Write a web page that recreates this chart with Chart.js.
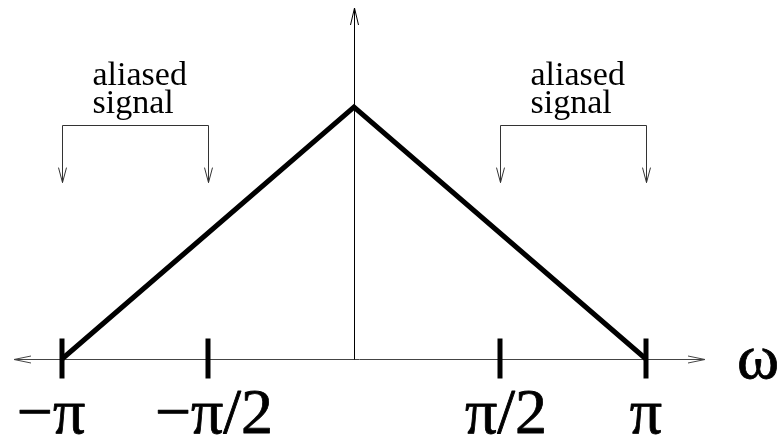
<!DOCTYPE html>
<html>
<head>
<meta charset="utf-8">
<style>
  html, body { margin: 0; padding: 0; background: #fff; }
  #wrap { width: 784px; height: 440px; }
</style>
<script src="https://cdn.jsdelivr.net/npm/chart.js@4/dist/chart.umd.min.js"></script>
</head>
<body>
<div id="wrap"><canvas id="spectrum" width="784" height="440"></canvas></div>
<script>
// frequency axis is in units of pi
const freqs = [-1, 0, 1];
const magnitude = [0, 1, 0];
const tickValues = [-1, -0.5, 0.5, 1];
const tickLabels = ['\u2212\u03c0', '\u2212\u03c0/2', '\u03c0/2', '\u03c0'];
const aliasBands = [[-1, -0.5], [0.5, 1]];
const aliasText = ['aliased', 'signal'];
const axisName = '\u03c9';

const SERIF = '"Liberation Serif", "Times New Roman", serif';

function arrowHead(ctx, tipX, tipY, dx, dy, len, half){
  // open V arrow pointing along (dx, dy)
  const bx = tipX - dx * len, by = tipY - dy * len;
  ctx.beginPath();
  ctx.moveTo(bx - dy * half, by + dx * half);
  ctx.lineTo(tipX, tipY);
  ctx.lineTo(bx + dy * half, by - dx * half);
  ctx.stroke();
}

const axesPlugin = {
  id: 'axes',
  beforeDatasetsDraw(chart){
    const {ctx, scales: {x, y}} = chart;
    const y0 = Math.round(y.getPixelForValue(0)) + 0.5;
    const x0 = Math.round(x.getPixelForValue(0)) + 0.5;
    ctx.save();
    ctx.lineWidth = 1;

    // horizontal axis, arrows both ends
    ctx.strokeStyle = '#444';
    ctx.beginPath();
    ctx.moveTo(14, y0);
    ctx.lineTo(705, y0);
    ctx.stroke();
    arrowHead(ctx, 14, y0, -1, 0, 17, 3.5);
    arrowHead(ctx, 705, y0, 1, 0, 17, 3.5);

    // vertical axis
    ctx.strokeStyle = '#000';
    ctx.beginPath();
    ctx.moveTo(x0, y0);
    ctx.lineTo(x0, 8);
    ctx.stroke();
    arrowHead(ctx, x0, 8, 0, -1, 17, 4);

    // thick tick marks crossing the axis
    ctx.lineWidth = 5;
    ctx.lineCap = 'butt';
    tickValues.forEach(v => {
      const px = x.getPixelForValue(v);
      ctx.beginPath();
      ctx.moveTo(px, y0 - 21);
      ctx.lineTo(px, y0 + 19);
      ctx.stroke();
    });

    // tick labels (hand placed, slightly off-centre)
    const nudge = [-11, 6, 6, 0];
    ctx.fillStyle = '#000';
    ctx.strokeStyle = '#000';
    ctx.lineWidth = 0.8;
    ctx.lineJoin = 'round';
    ctx.font = '64px ' + SERIF;
    ctx.textAlign = 'center';
    ctx.textBaseline = 'alphabetic';
    tickValues.forEach((v, i) => {
      const px = x.getPixelForValue(v) + nudge[i];
      ctx.fillText(tickLabels[i], px, 433);
      ctx.strokeText(tickLabels[i], px, 433);
    });
    ctx.textAlign = 'left';
    ctx.fillText(axisName, 737, 378);
    ctx.strokeText(axisName, 737, 378);
    ctx.restore();
  },
  afterDatasetsDraw(chart){
    const {ctx, scales: {x, y}} = chart;
    const topY = Math.round(y.getPixelForValue(0.93)) + 0.5;
    const tipY = y.getPixelForValue(0.7);
    ctx.save();
    ctx.strokeStyle = '#333';
    ctx.lineWidth = 1;
    ctx.fillStyle = '#000';
    ctx.font = '34px ' + SERIF;
    ctx.textAlign = 'left';
    aliasBands.forEach(([a, b]) => {
      const xa = Math.round(x.getPixelForValue(a)) + 0.5;
      const xb = Math.round(x.getPixelForValue(b)) + 0.5;
      ctx.beginPath();
      ctx.moveTo(xa, tipY);
      ctx.lineTo(xa, topY);
      ctx.lineTo(xb, topY);
      ctx.lineTo(xb, tipY);
      ctx.stroke();
      arrowHead(ctx, xa, tipY, 0, 1, 15, 4);
      arrowHead(ctx, xb, tipY, 0, 1, 15, 4);
      aliasText.forEach((t, i) => ctx.fillText(t, xa + 30, 85 + i * 28));
    });
    ctx.restore();
  }
};

new Chart(document.getElementById('spectrum'), {
  type: 'line',
  data: {
    datasets: [{
      data: freqs.map((f, i) => ({ x: f, y: magnitude[i] })),
      borderColor: '#000',
      borderWidth: 5,
      borderJoinStyle: 'miter',
      pointRadius: 0,
      tension: 0,
      fill: false
    }]
  },
  options: {
    responsive: false,
    animation: false,
    devicePixelRatio: 1,
    layout: { padding: 0 },
    plugins: { legend: { display: false }, tooltip: { enabled: false } },
    scales: {
      x: { type: 'linear', display: false, min: -1 - 62 / 292, max: 1 + 138 / 292 },
      y: { type: 'linear', display: false, min: -81 / 252, max: 1 + 107 / 252 }
    }
  },
  plugins: [axesPlugin]
});
</script>
</body>
</html>
